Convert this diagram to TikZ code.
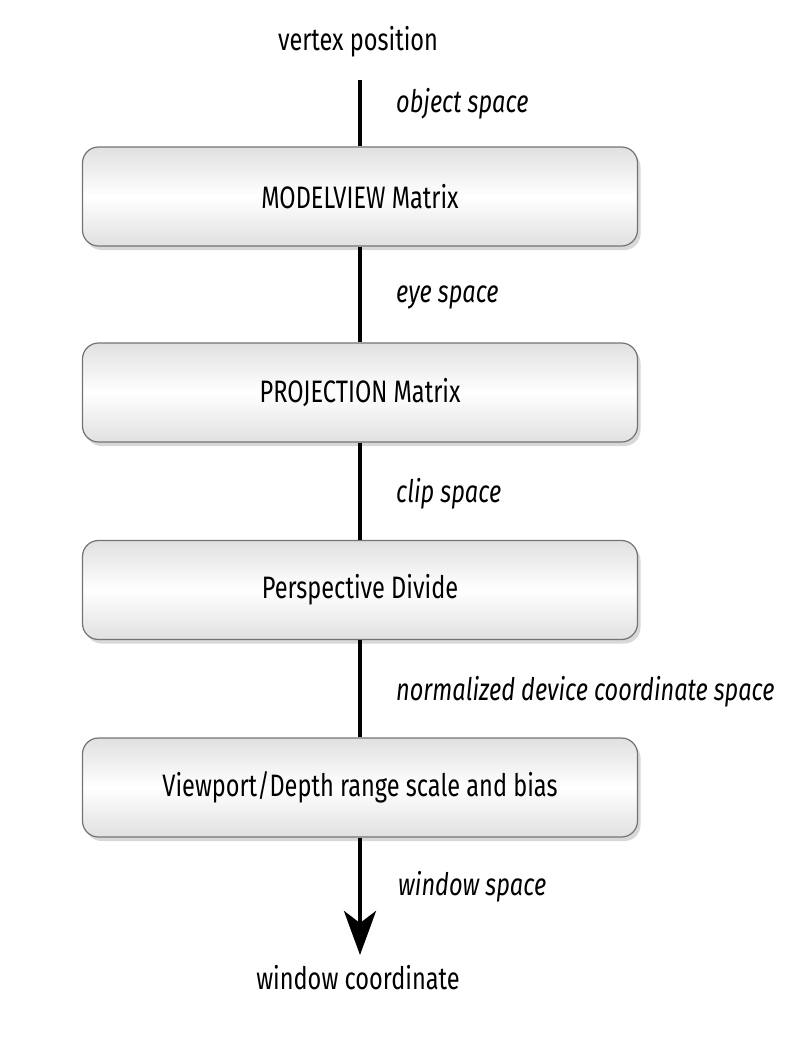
\documentclass[tikz,border=0pt]{standalone}
\usepackage{fontspec}
\setmainfont{Fira Sans}[FakeStretch=0.76]
\usetikzlibrary{arrows.meta,shadows}
\begin{document}
\begin{tikzpicture}[x=1pt,y=-1pt,
  stage/.style={draw=black!55, line width=1.2pt, rounded corners=16pt,
    minimum width=555pt, minimum height=99pt,
    top color=black!12, bottom color=black!12, middle color=white,
    drop shadow={shadow xshift=3pt, shadow yshift=-4pt, opacity=0.25, fill=black!60},
    font=\fontsize{31}{34}\selectfont, inner sep=0pt},
  term/.style={font=\fontsize{31}{34}\selectfont, inner sep=0pt},
  space/.style={font=\fontsize{31}{34}\selectfont\itshape, anchor=west, inner sep=0pt},
  flow/.style={line width=4pt}
]
\useasboundingbox (0,0) rectangle (811,1050);
\fill[white] (0,0) rectangle (811,1050);
\node[term] (vp) at (358,42) {vertex position};
\coordinate (top) at (360,80);
\node[stage] (mv) at (360,196.5) {MODELVIEW Matrix};
\node[stage] (pm) at (360,392.5) {PROJECTION Matrix};
\node[stage] (pd) at (360,590) {Perspective Divide};
\node[stage] (vd) at (360,787.5) {Viewport/Depth range scale and bias};
\coordinate (tip) at (360,955);
\node[term] (wc) at (358,978) {window coordinate};
\draw[flow] (top) -- (mv.north);
\draw[flow] (mv.south) -- (pm.north);
\draw[flow] (pm.south) -- (pd.north);
\draw[flow] (pd.south) -- (vd.north);
\draw[flow,-{Stealth[length=44pt,width=32pt,inset=12pt]}] (vd.south) -- (tip);
\node[space] (l1) at (396,104) {object space};
\node[space] (l2) at (396,297) {eye space};
\node[space] (l3) at (396,494) {clip space};
\node[space] (l4) at (396,692) {normalized device coordinate space};
\node[space] (l5) at (398,887) {window space};
\end{tikzpicture}
\end{document}
